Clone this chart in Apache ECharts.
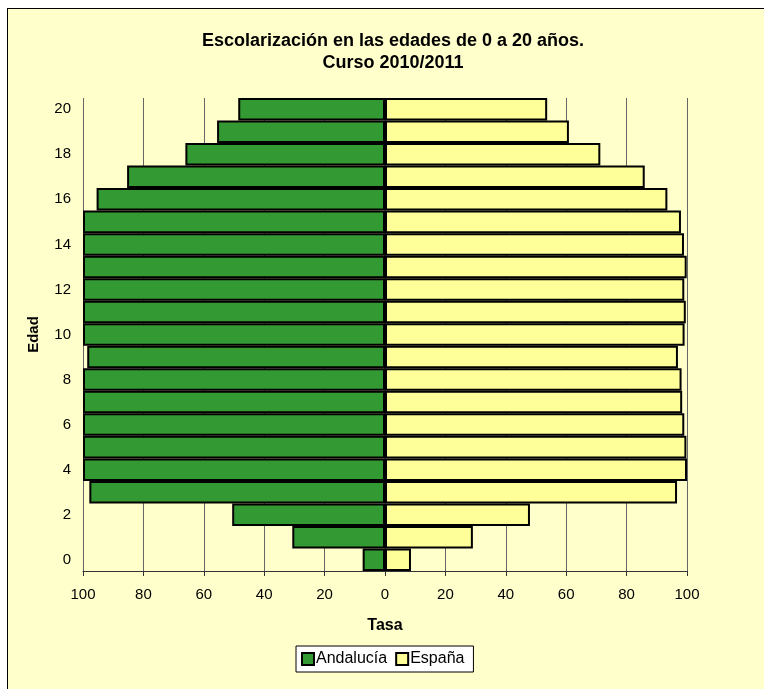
<!DOCTYPE html>
<html>
<head>
<meta charset="utf-8">
<script src="https://cdn.jsdelivr.net/npm/echarts@6/dist/echarts.min.js"></script>
<style>
  html, body { margin: 0; padding: 0; background: #ffffff; }
  #frame {
    position: absolute; left: 7px; top: 8px; width: 780px; height: 700px;
    border-left: 1px solid #000; border-top: 1px solid #000; background: #ffffcc;
  }
  #main { position: absolute; left: 0; top: 0; width: 764px; height: 689px; }
</style>
</head>
<body>
<div id="frame"></div>
<div id="main"></div>
<script>
// edades 0..20
const edades = ["0", "1", "2", "3", "4", "5", "6", "7", "8", "9", "10",
  "11", "12", "13", "14", "15", "16", "17", "18", "19", "20"];
// tasas de escolarización (%)
const andalucia = [7.4, 30.7, 50.6, 97.9, 100, 100, 100, 100, 100, 98.6, 100,
  100, 100, 100, 100, 100, 95.5, 85.4, 66.1, 55.6, 48.6];
const espana = [8.6, 29.1, 48.0, 96.7, 100, 99.8, 99.1, 98.4, 98.2, 97.0, 99.2,
  99.6, 99.1, 99.9, 99.0, 98.0, 93.5, 86.0, 71.3, 60.9, 53.7];

const chartDom = document.getElementById("main");
const myChart = echarts.init(chartDom);

const fuente = "Liberation Sans, Arial, sans-serif";

const option = {
  animation: false,
  title: {
    text: "Escolarización en las edades de 0 a 20 años.\nCurso 2010/2011",
    left: 388,
    top: 25,
    textAlign: "center",
    textStyle: { fontFamily: fuente, fontSize: 18, fontWeight: "bold", color: "#000", lineHeight: 22 },
  },
  legend: {
    data: ["Andalucía", "España"],
    bottom: 17,
    left: 296,
    itemWidth: 12,
    itemHeight: 12,
    itemGap: 8,
    icon: "rect",
    backgroundColor: "#ffffff",
    borderColor: "#000",
    borderWidth: 1,
    padding: [5, 9, 5, 5],
    textStyle: { fontFamily: fuente, fontSize: 16, color: "#000", padding: [0, 0, 0, -3] },
  },
  grid: { left: 83, right: 77, top: 98, bottom: 118 },
  xAxis: {
    type: "value",
    min: -100,
    max: 100,
    interval: 20,
    name: "Tasa",
    nameLocation: "middle",
    nameGap: 47,
    nameTextStyle: { fontFamily: fuente, fontSize: 16, fontWeight: "bold", color: "#000" },
    axisLine: { show: true, lineStyle: { color: "#333", width: 1 } },
    axisTick: { show: true, length: 5, lineStyle: { color: "#333" } },
    axisLabel: {
      fontFamily: fuente, fontSize: 15, color: "#000", margin: 16,
      formatter: (v) => Math.abs(v),
    },
    splitLine: { show: true, lineStyle: { color: "#666", width: 1 } },
  },
  yAxis: {
    type: "category",
    data: edades,
    name: "Edad",
    nameLocation: "middle",
    nameGap: 42,
    nameRotate: 90,
    nameTextStyle: { fontFamily: fuente, fontSize: 15, fontWeight: "bold", color: "#000" },
    axisLine: { show: false },
    axisTick: { show: false },
    axisLabel: { interval: 1, fontFamily: fuente, fontSize: 15, color: "#000", margin: 12 },
  },
  series: [
    {
      name: "Andalucía",
      type: "bar",
      data: andalucia.map((v) => -v),
      barGap: "-100%",
      barCategoryGap: 0,
      itemStyle: { color: "#339933", borderColor: "#000", borderWidth: 2 },
    },
    {
      name: "España",
      type: "bar",
      data: espana,
      barGap: "-100%",
      barCategoryGap: 0,
      itemStyle: { color: "#ffff99", borderColor: "#000", borderWidth: 2 },
    },
  ],
};

option && myChart.setOption(option);
</script>
</body>
</html>
